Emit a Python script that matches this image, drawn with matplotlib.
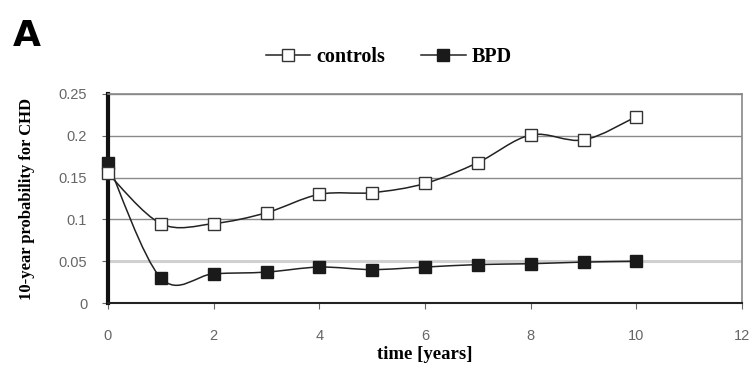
import numpy as np
import matplotlib.pyplot as plt
from matplotlib.path import Path
from matplotlib.patches import PathPatch

# follow-up time in years
years = [0, 1, 2, 3, 4, 5, 6, 7, 8, 9, 10]
# 10-year CHD risk per group
controls = [0.155, 0.095, 0.095, 0.108, 0.130, 0.132, 0.143, 0.168, 0.201, 0.195, 0.223]
bpd = [0.167, 0.030, 0.035, 0.037, 0.043, 0.040, 0.043, 0.046, 0.047, 0.049, 0.050]

x_ticks = [0, 2, 4, 6, 8, 10, 12]
y_ticks = [0, 0.05, 0.1, 0.15, 0.2, 0.25]
y_tick_labels = ['0', '0.05', '0.1', '0.15', '0.2', '0.25']


def smooth_path(x, y):
    # Catmull-Rom style cubic Bezier through the points (spreadsheet "smoothed line")
    pts = np.column_stack([x, y]).astype(float)
    n = len(pts)
    verts = [pts[0]]
    codes = [Path.MOVETO]
    for i in range(n - 1):
        p0 = pts[i - 1] if i > 0 else pts[i]
        p1 = pts[i]
        p2 = pts[i + 1]
        p3 = pts[i + 2] if i + 2 < n else pts[i + 1]
        c1 = p1 + (p2 - p0) / 6.0
        c2 = p2 - (p3 - p1) / 6.0
        verts += [c1, c2, p2]
        codes += [Path.CURVE4] * 3
    return Path(verts, codes)


fig = plt.figure(figsize=(7.55, 3.7), dpi=100)
ax = fig.add_axes([0.143, 0.181, 0.84, 0.565])

serif = ['Liberation Serif', 'DejaVu Serif']

for v in y_ticks[1:]:
    if v == 0.05:
        ax.axhline(v, color='#d0d0d0', lw=2.2, zorder=1)
    else:
        ax.axhline(v, color='#8a8a8a', lw=1.0, zorder=1)

for ys in (controls, bpd):
    ax.add_patch(PathPatch(smooth_path(years, ys), facecolor='none',
                           edgecolor='#222222', lw=1.1, zorder=2))

ax.plot(years, controls, ls='none', marker='s', ms=9, mfc='white',
        mec='#333333', mew=1.0, zorder=4, clip_on=False, label='controls')
ax.plot(years, bpd, ls='none', marker='s', ms=9, mfc='#1a1a1a',
        mec='#1a1a1a', mew=1.0, zorder=3, clip_on=False, label='BPD')

ax.set_xlim(0, 12)
ax.set_ylim(0, 0.25)
ax.set_xticks(x_ticks)
ax.set_yticks(y_ticks)
ax.set_yticklabels(y_tick_labels)
ax.tick_params(axis='both', labelsize=10.5, colors='#666666', length=4)
ax.tick_params(axis='y', length=4, pad=11)
ax.tick_params(axis='x', pad=15)
for lab in ax.get_xticklabels() + ax.get_yticklabels():
    lab.set_family(['Liberation Sans', 'DejaVu Sans'])

ax.spines['left'].set_linewidth(3)
ax.spines['left'].set_color('#111111')
ax.spines['bottom'].set_linewidth(1.5)
ax.spines['bottom'].set_color('#222222')
for s in ('top', 'right'):
    ax.spines[s].set_color('#888888')
    ax.spines[s].set_linewidth(1.2)

ax.set_xlabel('time [years]', fontsize=13.5, fontweight='bold', family=serif, labelpad=2)
ax.set_ylabel('10-year probability for CHD', fontsize=12, fontweight='bold',
              family=serif, labelpad=17)

# legend with line segments through the markers
h1 = plt.Line2D([], [], color='#222222', lw=1.1, marker='s', ms=9, mfc='white', mec='#333333')
h2 = plt.Line2D([], [], color='#222222', lw=1.1, marker='s', ms=9, mfc='#1a1a1a', mec='#1a1a1a')
fig.legend([h1, h2], ['controls', 'BPD'], loc='center', bbox_to_anchor=(0.515, 0.846),
           ncol=2, frameon=False, handlelength=2.2, handletextpad=0.3, columnspacing=1.8,
           prop={'family': serif, 'weight': 'bold', 'size': 14.5})

fig.text(0.017, 0.876, 'A', fontsize=26, fontweight='bold', family='DejaVu Sans',
         va='baseline')

plt.savefig('out.png', dpi=100)
